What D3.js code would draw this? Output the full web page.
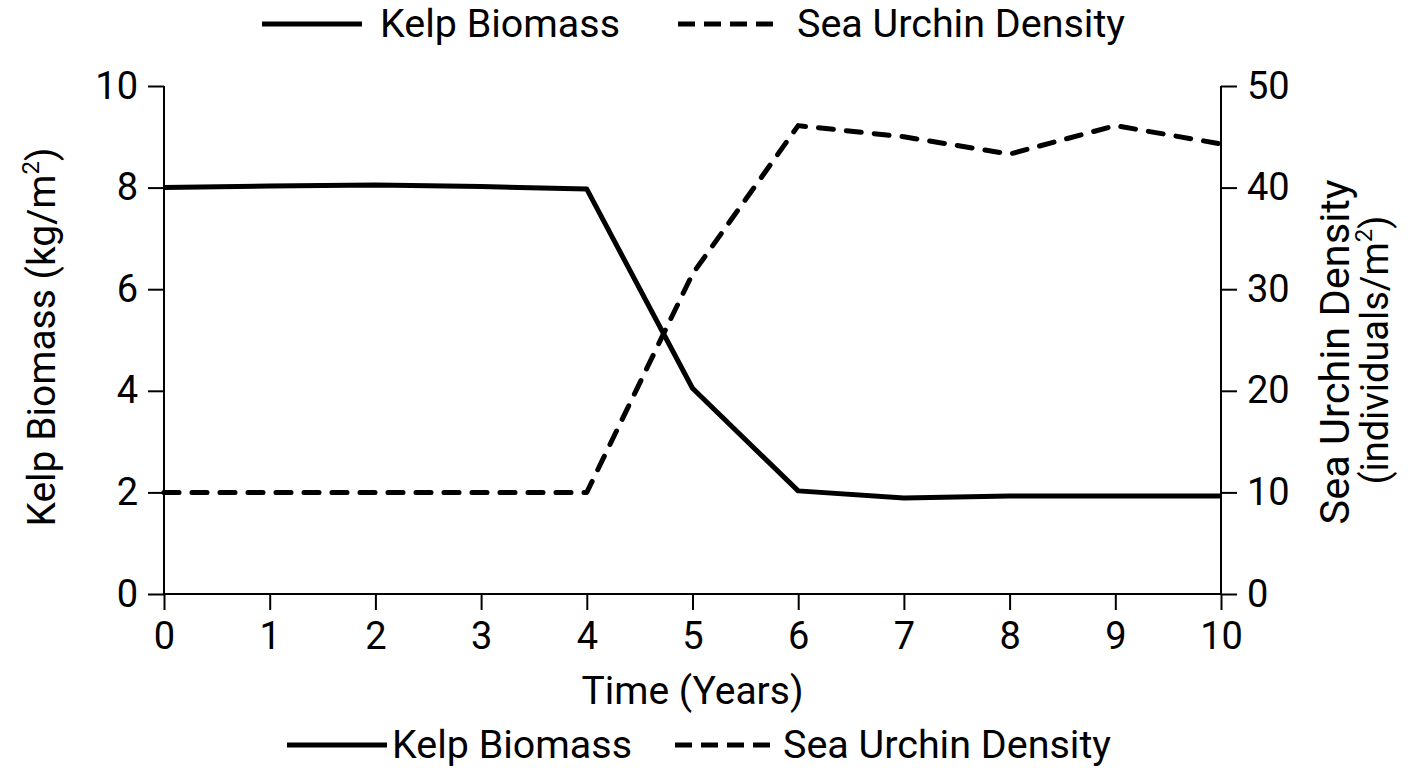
<!DOCTYPE html>
<html>
<head>
  <meta charset="utf-8" />
  <script src="https://d3js.org/d3.v7.min.js"></script>
  <style>
    body { margin: 0; background: #fff; }
    svg text { font-family: Roboto, 'Noto Sans', sans-serif; fill: #000; }
  </style>
</head>
<body>
  <svg id="chart" width="1408" height="768"></svg>
  <script>
    // data
    const years = [0, 1, 2, 3, 4, 5, 6, 7, 8, 9, 10];
    const kelpBiomass = [8.0, 8.03, 8.05, 8.02, 7.97, 4.05, 2.03, 1.89, 1.93, 1.93, 1.93];
    const urchinDensity = [10, 10, 10, 10, 10, 31.5, 46.1, 45.0, 43.3, 46.1, 44.3];
    const kelpTicks = [0, 2, 4, 6, 8, 10];
    const urchinTicks = [0, 10, 20, 30, 40, 50];

    const svg = d3.select("#chart");
    const margin = { top: 86, right: 187, bottom: 174, left: 164 };
    const width = 1408 - margin.left - margin.right;
    const height = 768 - margin.top - margin.bottom;
    const g = svg.append("g").attr("transform", "translate(" + margin.left + "," + margin.top + ")");

    const x = d3.scaleLinear().domain([0, 10]).range([0, width]);
    const yLeft = d3.scaleLinear().domain([0, 10]).range([height, 0]);
    const yRight = d3.scaleLinear().domain([0, 50]).range([height, 0]);

    const styleAxis = sel => {
      sel.selectAll("path, line").attr("stroke", "#000").attr("stroke-width", 2);
      sel.select(".domain").remove();
      sel.selectAll("text").attr("font-size", 38).attr("fill", "#000");
    };

    g.append("g").attr("transform", "translate(0," + height + ")")
      .call(d3.axisBottom(x).tickValues(years).tickSize(16).tickPadding(12).tickFormat(d3.format("d")))
      .call(styleAxis);

    g.append("g")
      .call(d3.axisLeft(yLeft).tickValues(kelpTicks).tickSize(16).tickPadding(10))
      .call(styleAxis);

    g.append("g").attr("transform", "translate(" + width + ",0)")
      .call(d3.axisRight(yRight).tickValues(urchinTicks).tickSize(16).tickPadding(10))
      .call(styleAxis);

    // axis frame lines
    g.append("line").attr("x1", 0).attr("x2", width).attr("y1", height).attr("y2", height)
      .attr("stroke", "#000").attr("stroke-width", 2);
    g.append("line").attr("x1", 0).attr("x2", 0).attr("y1", 0).attr("y2", height)
      .attr("stroke", "#000").attr("stroke-width", 2);
    g.append("line").attr("x1", width).attr("x2", width).attr("y1", 0).attr("y2", height)
      .attr("stroke", "#000").attr("stroke-width", 2);

    const kelpLine = d3.line().x((d, i) => x(years[i])).y(d => yLeft(d));
    const urchinLine = d3.line().x((d, i) => x(years[i])).y(d => yRight(d));

    g.append("path").datum(kelpBiomass)
      .attr("fill", "none").attr("stroke", "#000").attr("stroke-width", 5)
      .attr("stroke-linejoin", "round").attr("d", kelpLine);

    g.append("path").datum(urchinDensity)
      .attr("fill", "none").attr("stroke", "#000").attr("stroke-width", 5)
      .attr("stroke-dasharray", "15,13").attr("stroke-linecap", "round")
      .attr("stroke-linejoin", "round").attr("d", urchinLine);

    // axis titles
    const leftTitle = svg.append("text")
      .attr("transform", "translate(55,337)rotate(-90)")
      .attr("text-anchor", "middle").attr("font-size", 39);
    leftTitle.append("tspan").text("Kelp Biomass (kg/m");
    leftTitle.append("tspan").attr("font-size", 24).attr("dy", -16).text("2");
    leftTitle.append("tspan").attr("dy", 16).text(")");

    svg.append("text")
      .attr("transform", "translate(1349,352)rotate(-90)")
      .attr("text-anchor", "middle").attr("font-size", 41)
      .attr("textLength", 345).attr("lengthAdjust", "spacingAndGlyphs")
      .text("Sea Urchin Density");

    const rt2 = svg.append("text")
      .attr("transform", "translate(1388,350)rotate(-90)")
      .attr("text-anchor", "middle").attr("font-size", 38);
    rt2.append("tspan").text("(individuals/m");
    rt2.append("tspan").attr("font-size", 24).attr("dy", -16).text("2");
    rt2.append("tspan").attr("dy", 16).text(")");

    svg.append("text").attr("x", margin.left + width / 2).attr("y", 704)
      .attr("text-anchor", "middle").attr("font-size", 39).text("Time (Years)");

    // legends, top and bottom
    const legends = [
      { y: 24, solidX: 262, solidText: 380, dashX: 675, dashText: 797 },
      { y: 745, solidX: 287, solidText: 392, dashX: 672, dashText: 783 }
    ];
    legends.forEach(l => {
      const lg = svg.append("g");
      lg.append("line").attr("x1", l.solidX).attr("x2", l.solidX + 100).attr("y1", l.y).attr("y2", l.y)
        .attr("stroke", "#000").attr("stroke-width", 5);
      lg.append("text").attr("x", l.solidText).attr("y", l.y + 13).attr("font-size", 38)
        .attr("textLength", 240).attr("lengthAdjust", "spacingAndGlyphs").text("Kelp Biomass");
      lg.append("line").attr("x1", l.dashX + 3).attr("x2", l.dashX + 100).attr("y1", l.y).attr("y2", l.y)
        .attr("stroke", "#000").attr("stroke-width", 5).attr("stroke-dasharray", "17,9");
      lg.append("text").attr("x", l.dashText).attr("y", l.y + 13).attr("font-size", 38)
        .attr("textLength", 328).attr("lengthAdjust", "spacingAndGlyphs").text("Sea Urchin Density");
    });
  </script>
</body>
</html>
